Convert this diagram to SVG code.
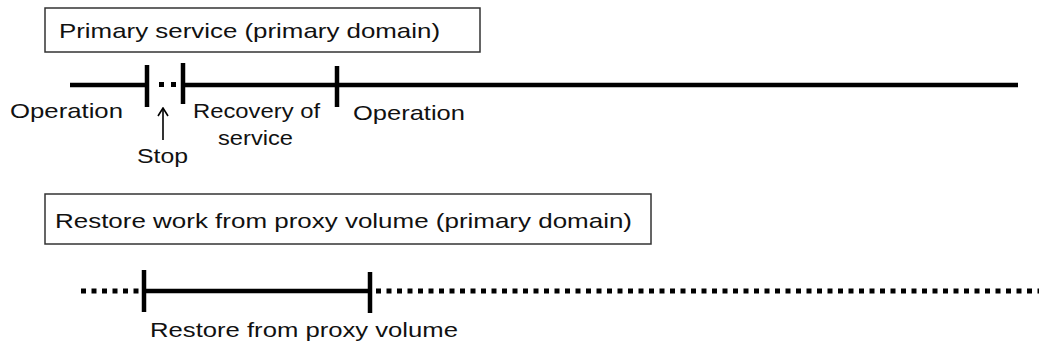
<svg xmlns="http://www.w3.org/2000/svg" width="1039" height="347" viewBox="0 0 1039 347">
<style>
.box{fill:#fff;stroke:#333;stroke-width:1.5}
.t{font-family:"Liberation Sans",Arial,sans-serif;font-size:21px;fill:#111}
.ln{stroke:#000;stroke-width:4.5;fill:none}
.tick{stroke:#000;stroke-width:4.5}
.dot{stroke:#000;stroke-width:5;stroke-dasharray:5 5.5;fill:none}
.arr{stroke:#000;stroke-width:1.6;fill:none}
</style>
<defs>
<marker id="ah" viewBox="0 0 10 12" refX="9" refY="6" markerWidth="10" markerHeight="12" markerUnits="userSpaceOnUse" orient="auto">
<path d="M1,1 L9,6 L1,11" fill="none" stroke="#000" stroke-width="1.6"/>
</marker>
</defs>
<g id="box-primary">
<rect class="box" x="45" y="8" width="435" height="44"/>
<text class="t" x="59" y="38" textLength="381" lengthAdjust="spacingAndGlyphs">Primary service (primary domain)</text>
</g>
<g id="box-restore">
<rect class="box" x="45" y="194" width="606" height="50"/>
<text class="t" x="55" y="228" textLength="577" lengthAdjust="spacingAndGlyphs">Restore work from proxy volume (primary domain)</text>
</g>
<g id="connectors">
<line class="ln" x1="70" y1="85" x2="147" y2="85"/>
<rect x="159" y="82" width="5" height="5" fill="#000"/>
<rect x="171" y="82" width="5" height="5" fill="#000"/>
<line class="ln" x1="183" y1="85" x2="1018" y2="85"/>
<line class="tick" x1="147" y1="65" x2="147" y2="107"/>
<line class="tick" x1="183" y1="63" x2="183" y2="104"/>
<line class="tick" x1="337" y1="66" x2="337" y2="107"/>
<line class="arr" x1="163" y1="140" x2="163" y2="108" marker-end="url(#ah)"/>
<line class="dot" x1="81" y1="291" x2="140" y2="291"/>
<line class="ln" x1="144" y1="291" x2="369" y2="291"/>
<line class="dot" x1="376" y1="291" x2="1039" y2="291"/>
<line class="tick" x1="144" y1="270" x2="144" y2="312"/>
<line class="tick" x1="370" y1="272" x2="370" y2="313"/>
</g>
<g id="labels">
<text class="t" x="10" y="118" textLength="113" lengthAdjust="spacingAndGlyphs">Operation</text>
<text class="t" x="137" y="163" textLength="51" lengthAdjust="spacingAndGlyphs">Stop</text>
<text class="t" x="193" y="118" textLength="127" lengthAdjust="spacingAndGlyphs">Recovery of</text>
<text class="t" x="218" y="145" textLength="75" lengthAdjust="spacingAndGlyphs">service</text>
<text class="t" x="353" y="120" textLength="112" lengthAdjust="spacingAndGlyphs">Operation</text>
<text class="t" x="150" y="337" textLength="308" lengthAdjust="spacingAndGlyphs">Restore from proxy volume</text>
</g>
</svg>
